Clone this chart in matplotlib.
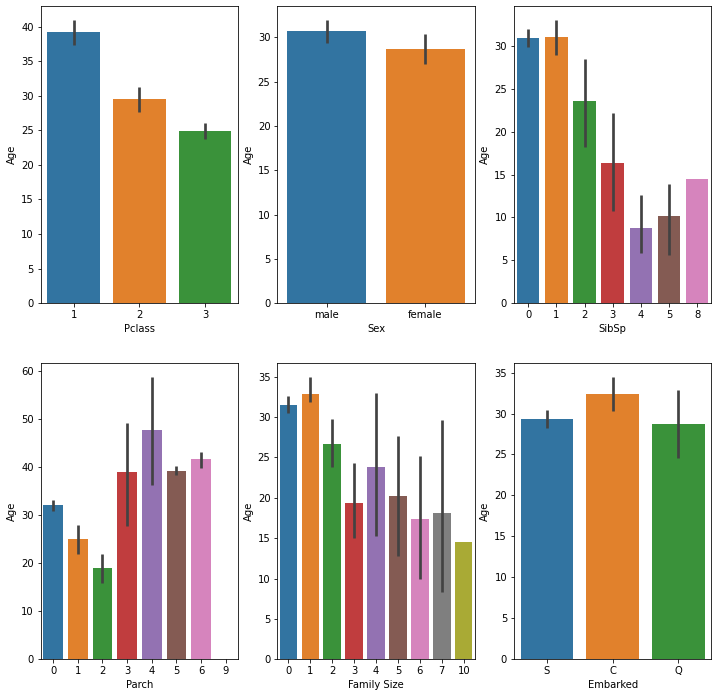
import numpy as np
import matplotlib
matplotlib.use("Agg")
import matplotlib.pyplot as plt

# seaborn's desaturated tab10 palette
colors = ['#3274a1', '#e1812c', '#3a923a', '#c03d3e', '#9372b2',
          '#845b53', '#d684bd', '#7f7f7f', '#a9aa35']

pclass_cats = ['1', '2', '3']
pclass_age = [39.2, 29.5, 24.9]
pclass_lo = [37.4, 27.6, 23.7]
pclass_hi = [40.9, 31.3, 26.0]

sex_cats = ['male', 'female']
sex_age = [30.7, 28.7]
sex_lo = [29.4, 27.0]
sex_hi = [31.9, 30.4]

sibsp_cats = ['0', '1', '2', '3', '4', '5', '8']
sibsp_age = [31.0, 31.1, 23.6, 16.3, 8.8, 10.2, 14.5]
sibsp_lo = [29.9, 29.0, 18.2, 10.7, 5.9, 5.6, np.nan]
sibsp_hi = [32.0, 33.0, 28.5, 22.2, 12.6, 13.9, np.nan]

parch_cats = ['0', '1', '2', '3', '4', '5', '6', '9']
parch_age = [32.1, 25.0, 19.0, 38.9, 47.6, 39.2, 41.6, np.nan]
parch_lo = [30.8, 21.9, 15.9, 27.8, 36.3, 38.4, 39.8, np.nan]
parch_hi = [33.1, 27.9, 21.9, 49.2, 58.8, 40.3, 43.2, np.nan]

fam_cats = ['0', '1', '2', '3', '4', '5', '6', '7', '10']
fam_age = [31.5, 32.8, 26.6, 19.4, 23.8, 20.2, 17.4, 18.1, 14.5]
fam_lo = [30.5, 31.8, 23.8, 15.0, 15.3, 12.8, 10.0, 8.3, np.nan]
fam_hi = [32.6, 35.0, 29.8, 24.3, 33.0, 27.6, 25.2, 29.6, np.nan]

emb_cats = ['S', 'C', 'Q']
emb_age = [29.3, 32.4, 28.7]
emb_lo = [28.2, 30.3, 24.6]
emb_hi = [30.4, 34.5, 32.9]

panels = [
    ('Pclass', pclass_cats, pclass_age, pclass_lo, pclass_hi),
    ('Sex', sex_cats, sex_age, sex_lo, sex_hi),
    ('SibSp', sibsp_cats, sibsp_age, sibsp_lo, sibsp_hi),
    ('Parch', parch_cats, parch_age, parch_lo, parch_hi),
    ('Family Size', fam_cats, fam_age, fam_lo, fam_hi),
    ('Embarked', emb_cats, emb_age, emb_lo, emb_hi),
]

fig, axes = plt.subplots(2, 3, figsize=(717 / 72, 697 / 72), dpi=72)
fig.subplots_adjust(left=0.057, right=0.992, bottom=0.054, top=0.991,
                    wspace=0.2, hspace=0.2)

for ax, (name, cats, vals, lo, hi) in zip(axes.flat, panels):
    x = np.arange(len(cats))
    vals = np.array(vals, dtype=float)
    ok = ~np.isnan(vals)
    ax.bar(x[ok], vals[ok], width=0.8,
           color=[colors[i % len(colors)] for i in x[ok]])
    for xi, l, h in zip(x, lo, hi):
        if not np.isnan(l):
            ax.plot([xi, xi], [l, h], color='.26', lw=2.7, solid_capstyle='butt')
    ax.set_xticks(x)
    ax.set_xticklabels(cats)
    ax.set_xlim(-0.5, len(cats) - 0.5)
    ax.set_ylim(bottom=0)
    ax.set_xlabel(name)
    ax.set_ylabel('Age')

fig.savefig('out.png', dpi=72)
